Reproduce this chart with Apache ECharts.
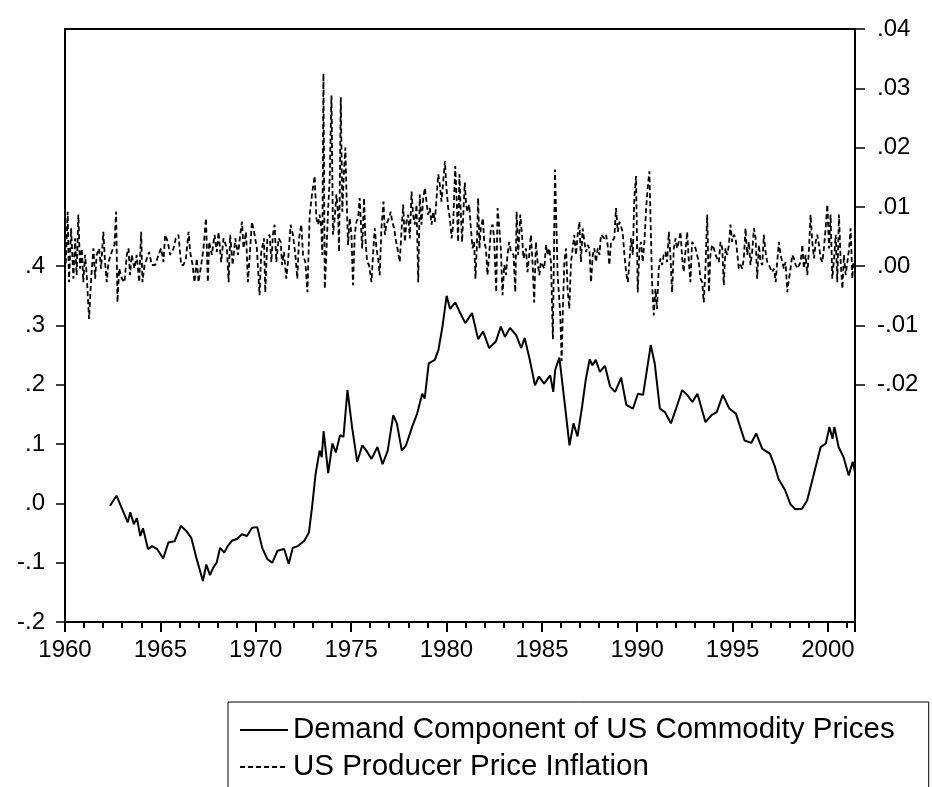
<!DOCTYPE html>
<html>
<head>
<meta charset="utf-8">
<script src="https://cdn.jsdelivr.net/npm/echarts@6.0.0/dist/echarts.min.js"></script>
<style>
  html, body { margin: 0; padding: 0; background: #fff; }
  #main { width: 932px; height: 787px; }
</style>
</head>
<body>
<div id="main"></div>
<script>
// demand component of US commodity prices (left axis)
const demandDates = [
  1962.36, 1962.70, 1963.29, 1963.42, 1963.61, 1963.77, 1963.95, 1964.09, 1964.35, 1964.57,
  1964.83, 1965.15, 1965.42, 1965.74, 1966.08, 1966.35, 1966.62, 1966.88, 1967.23, 1967.41,
  1967.60, 1967.76, 1967.95, 1968.13, 1968.35, 1968.53, 1968.75, 1969.01, 1969.28, 1969.54,
  1969.81, 1970.08, 1970.34, 1970.61, 1970.87, 1971.14, 1971.49, 1971.73, 1971.94, 1972.21,
  1972.55, 1972.79, 1972.95, 1973.14, 1973.35, 1973.46, 1973.56, 1973.80, 1974.02, 1974.20,
  1974.42, 1974.60, 1974.81, 1975.05, 1975.32, 1975.59, 1975.80, 1976.07, 1976.38, 1976.65,
  1976.92, 1977.21, 1977.40, 1977.66, 1977.88, 1978.20, 1978.46, 1978.73, 1978.86, 1979.07,
  1979.39, 1979.58, 1979.79, 1980.01, 1980.19, 1980.46, 1980.72, 1980.99, 1981.34, 1981.66,
  1981.92, 1982.24, 1982.59, 1982.85, 1983.07, 1983.33, 1983.65, 1983.92, 1984.10, 1984.37,
  1984.64, 1984.85, 1985.12, 1985.44, 1985.60, 1985.70, 1985.92, 1986.18, 1986.45, 1986.66,
  1986.87, 1987.11, 1987.30, 1987.51, 1987.65, 1987.83, 1988.04, 1988.31, 1988.58, 1988.84,
  1989.16, 1989.43, 1989.78, 1990.04, 1990.31, 1990.71, 1990.92, 1991.19, 1991.45, 1991.77,
  1992.04, 1992.36, 1992.62, 1992.89, 1993.16, 1993.58, 1993.90, 1994.17, 1994.49, 1994.83,
  1995.18, 1995.63, 1995.98, 1996.24, 1996.56, 1996.96, 1997.23, 1997.41, 1997.76, 1998.03,
  1998.29, 1998.64, 1998.91, 1999.22, 1999.62, 1999.89, 2000.08, 2000.24, 2000.34, 2000.56,
  2000.82, 2001.09, 2001.30, 2001.42
];
const demandValues = [
  -0.004, 0.013, -0.032, -0.015, -0.035, -0.025, -0.055, -0.042, -0.077, -0.072,
  -0.077, -0.093, -0.066, -0.064, -0.038, -0.046, -0.058, -0.091, -0.131, -0.103,
  -0.121, -0.109, -0.100, -0.075, -0.083, -0.072, -0.063, -0.060, -0.052, -0.055,
  -0.041, -0.040, -0.075, -0.094, -0.100, -0.080, -0.077, -0.102, -0.075, -0.072,
  -0.063, -0.049, -0.007, 0.050, 0.089, 0.078, 0.122, 0.051, 0.101, 0.086,
  0.115, 0.112, 0.191, 0.129, 0.070, 0.098, 0.089, 0.075, 0.095, 0.066,
  0.089, 0.149, 0.135, 0.089, 0.098, 0.129, 0.151, 0.185, 0.177, 0.236,
  0.242, 0.259, 0.298, 0.350, 0.328, 0.339, 0.321, 0.304, 0.321, 0.277,
  0.290, 0.262, 0.273, 0.298, 0.281, 0.296, 0.284, 0.262, 0.279, 0.242,
  0.199, 0.214, 0.202, 0.216, 0.188, 0.225, 0.246, 0.174, 0.098, 0.135,
  0.113, 0.163, 0.208, 0.243, 0.233, 0.242, 0.222, 0.232, 0.197, 0.188,
  0.212, 0.166, 0.160, 0.185, 0.183, 0.267, 0.236, 0.160, 0.154, 0.135,
  0.160, 0.191, 0.183, 0.171, 0.185, 0.137, 0.149, 0.154, 0.183, 0.160,
  0.151, 0.106, 0.102, 0.118, 0.092, 0.084, 0.061, 0.041, 0.022, -0.001,
  -0.010, -0.009, 0.005, 0.044, 0.095, 0.101, 0.129, 0.109, 0.129, 0.095,
  0.078, 0.047, 0.070, 0.053
];

// US producer price inflation (right axis)
const ppiDates = [
  1960.04, 1960.14, 1960.21, 1960.32, 1960.44, 1960.53, 1960.61, 1960.70, 1960.79, 1960.88,
  1960.96, 1961.05, 1961.14, 1961.26, 1961.37, 1961.49, 1961.58, 1961.66, 1961.79, 1961.89,
  1962.01, 1962.10, 1962.19, 1962.28, 1962.45, 1962.59, 1962.68, 1962.75, 1962.84, 1962.98,
  1963.12, 1963.24, 1963.33, 1963.41, 1963.50, 1963.64, 1963.76, 1963.89, 1963.99, 1964.06,
  1964.17, 1964.29, 1964.41, 1964.55, 1964.73, 1964.90, 1965.04, 1965.16, 1965.25, 1965.39,
  1965.51, 1965.69, 1965.81, 1965.95, 1966.09, 1966.21, 1966.34, 1966.48, 1966.56, 1966.69,
  1966.79, 1966.91, 1967.00, 1967.14, 1967.26, 1967.39, 1967.49, 1967.56, 1967.70, 1967.84,
  1967.96, 1968.05, 1968.19, 1968.31, 1968.49, 1968.58, 1968.66, 1968.79, 1968.93, 1969.07,
  1969.19, 1969.28, 1969.36, 1969.49, 1969.59, 1969.71, 1969.80, 1969.94, 1970.06, 1970.20,
  1970.29, 1970.43, 1970.50, 1970.61, 1970.73, 1970.82, 1970.90, 1970.99, 1971.08, 1971.20,
  1971.31, 1971.38, 1971.48, 1971.60, 1971.69, 1971.83, 1971.95, 1972.08, 1972.18, 1972.27,
  1972.39, 1972.48, 1972.60, 1972.71, 1972.83, 1972.95, 1973.09, 1973.18, 1973.27, 1973.35,
  1973.44, 1973.49, 1973.55, 1973.62, 1973.70, 1973.79, 1973.88, 1973.97, 1974.05, 1974.14,
  1974.23, 1974.32, 1974.37, 1974.46, 1974.54, 1974.61, 1974.70, 1974.77, 1974.84, 1974.93,
  1975.02, 1975.10, 1975.19, 1975.28, 1975.37, 1975.45, 1975.58, 1975.68, 1975.75, 1975.84,
  1975.94, 1976.07, 1976.15, 1976.24, 1976.33, 1976.42, 1976.50, 1976.59, 1976.70, 1976.77,
  1976.85, 1976.98, 1977.08, 1977.15, 1977.26, 1977.33, 1977.43, 1977.55, 1977.64, 1977.73,
  1977.82, 1977.90, 1977.99, 1978.08, 1978.17, 1978.25, 1978.34, 1978.43, 1978.52, 1978.60,
  1978.69, 1978.78, 1978.87, 1978.95, 1979.04, 1979.13, 1979.22, 1979.30, 1979.39, 1979.48,
  1979.57, 1979.65, 1979.74, 1979.83, 1979.92, 1980.00, 1980.09, 1980.18, 1980.27, 1980.35,
  1980.46, 1980.54, 1980.61, 1980.68, 1980.75, 1980.82, 1980.89, 1980.96, 1981.03, 1981.10,
  1981.19, 1981.28, 1981.37, 1981.45, 1981.52, 1981.59, 1981.66, 1981.73, 1981.80, 1981.91,
  1981.98, 1982.07, 1982.15, 1982.24, 1982.33, 1982.42, 1982.50, 1982.61, 1982.68, 1982.77,
  1982.85, 1982.94, 1983.03, 1983.12, 1983.20, 1983.29, 1983.38, 1983.52, 1983.61, 1983.68,
  1983.76, 1983.87, 1983.96, 1984.04, 1984.17, 1984.25, 1984.34, 1984.43, 1984.52, 1984.60,
  1984.69, 1984.78, 1984.87, 1984.95, 1985.04, 1985.13, 1985.22, 1985.30, 1985.39, 1985.48,
  1985.58, 1985.69, 1985.83, 1985.97, 1986.04, 1986.11, 1986.18, 1986.27, 1986.35, 1986.44,
  1986.53, 1986.62, 1986.70, 1986.79, 1986.88, 1986.97, 1987.05, 1987.14, 1987.23, 1987.32,
  1987.40, 1987.49, 1987.58, 1987.67, 1987.75, 1987.84, 1987.93, 1988.02, 1988.10, 1988.19,
  1988.28, 1988.37, 1988.45, 1988.54, 1988.63, 1988.72, 1988.80, 1988.89, 1988.98, 1989.07,
  1989.15, 1989.24, 1989.33, 1989.42, 1989.51, 1989.59, 1989.68, 1989.77, 1989.85, 1989.94,
  1990.03, 1990.12, 1990.20, 1990.29, 1990.38, 1990.47, 1990.55, 1990.64, 1990.78, 1990.87,
  1990.96, 1991.04, 1991.13, 1991.22, 1991.31, 1991.39, 1991.48, 1991.57, 1991.66, 1991.74,
  1991.83, 1991.92, 1992.01, 1992.09, 1992.18, 1992.27, 1992.36, 1992.44, 1992.53, 1992.62,
  1992.71, 1992.79, 1992.88, 1992.97, 1993.06, 1993.14, 1993.23, 1993.32, 1993.41, 1993.49,
  1993.58, 1993.67, 1993.76, 1993.84, 1993.93, 1994.02, 1994.11, 1994.19, 1994.28, 1994.37,
  1994.46, 1994.54, 1994.63, 1994.72, 1994.81, 1994.89, 1994.98, 1995.07, 1995.16, 1995.24,
  1995.33, 1995.42, 1995.51, 1995.59, 1995.68, 1995.77, 1995.86, 1995.94, 1996.03, 1996.12,
  1996.21, 1996.29, 1996.38, 1996.47, 1996.56, 1996.64, 1996.73, 1996.82, 1996.91, 1996.99,
  1997.08, 1997.17, 1997.26, 1997.34, 1997.43, 1997.52, 1997.61, 1997.69, 1997.78, 1997.87,
  1997.96, 1998.04, 1998.13, 1998.22, 1998.31, 1998.39, 1998.48, 1998.57, 1998.66, 1998.74,
  1998.83, 1998.92, 1999.01, 1999.09, 1999.18, 1999.27, 1999.36, 1999.44, 1999.53, 1999.62,
  1999.71, 1999.79, 1999.88, 1999.97, 2000.06, 2000.14, 2000.23, 2000.32, 2000.41, 2000.49,
  2000.58, 2000.67, 2000.76, 2000.84, 2000.93, 2001.02, 2001.11, 2001.19, 2001.28, 2001.33
];
const ppiValues = [
  0.0005, 0.0092, -0.0027, 0.0064, -0.0021, 0.0047, -0.0015, 0.0087, -0.0004, 0.0030,
  -0.0027, 0.0019, -0.0015, -0.0089, -0.0021, 0.0030, -0.0021, 0.0019, 0.0030, -0.0004,
  0.0058, 0.0007, -0.0027, 0.0007, 0.0024, 0.0036, 0.0092, -0.0061, -0.0004, -0.0021,
  -0.0027, 0.0019, 0.0030, -0.0015, 0.0019, -0.0004, 0.0019, -0.0027, 0.0058, -0.0027,
  0.0002, 0.0013, 0.0024, 0.0002, 0.0002, 0.0019, 0.0030, 0.0007, 0.0053, 0.0041,
  0.0019, 0.0030, 0.0047, 0.0053, 0.0002, 0.0002, 0.0013, 0.0058, 0.0024, 0.0002,
  -0.0027, 0.0013, -0.0027, 0.0002, 0.0030, 0.0081, -0.0027, 0.0041, 0.0019, 0.0053,
  0.0024, 0.0058, 0.0007, 0.0047, 0.0030, -0.0027, 0.0053, 0.0002, 0.0047, 0.0019,
  0.0053, 0.0075, 0.0030, 0.0058, -0.0027, 0.0030, 0.0075, 0.0053, 0.0030, -0.0049,
  0.0024, 0.0047, -0.0044, 0.0047, 0.0053, 0.0007, 0.0053, 0.0070, 0.0007, 0.0047,
  0.0041, 0.0002, 0.0024, -0.0021, 0.0007, 0.0070, 0.0053, 0.0019, -0.0021, 0.0047,
  0.0070, 0.0019, 0.0007, -0.0044, 0.0087, 0.0121, 0.0152, 0.0081, 0.0070, 0.0087,
  0.0064, 0.0019, 0.0325, -0.0038, 0.0019, 0.0092, 0.0149, 0.0288, 0.0053, 0.0081,
  0.0121, 0.0087, 0.0024, 0.0285, 0.0092, 0.0149, 0.0200, 0.0109, 0.0036, 0.0081,
  0.0053, -0.0032, 0.0053, 0.0075, 0.0081, 0.0115, 0.0030, 0.0115, 0.0047, 0.0007,
  0.0002, -0.0027, 0.0019, 0.0064, 0.0030, 0.0013, -0.0015, 0.0064, 0.0109, 0.0053,
  0.0070, 0.0081, 0.0092, 0.0075, 0.0064, 0.0047, 0.0030, 0.0007, 0.0058, 0.0104,
  0.0041, 0.0075, 0.0087, 0.0047, 0.0126, 0.0087, 0.0070, 0.0104, -0.0027, 0.0121,
  0.0070, 0.0115, 0.0132, 0.0109, 0.0087, 0.0098, 0.0070, 0.0092, 0.0075, 0.0115,
  0.0155, 0.0138, 0.0109, 0.0143, 0.0177, 0.0132, 0.0098, 0.0081, 0.0047, 0.0070,
  0.0169, 0.0109, 0.0041, 0.0155, 0.0092, 0.0041, 0.0092, 0.0141, 0.0104, 0.0092,
  0.0104, 0.0064, 0.0030, 0.0041, -0.0021, 0.0030, 0.0115, 0.0030, 0.0064, 0.0081,
  0.0041, 0.0030, -0.0015, 0.0019, 0.0064, 0.0070, 0.0047, -0.0044, 0.0098, 0.0064,
  0.0030, -0.0049, 0.0002, -0.0015, 0.0019, 0.0041, 0.0024, 0.0019, -0.0044, 0.0092,
  0.0019, 0.0087, 0.0053, 0.0013, 0.0030, -0.0010, 0.0019, 0.0053, 0.0002, -0.0061,
  0.0041, 0.0007, -0.0015, 0.0007, 0.0007, -0.0004, 0.0036, 0.0019, 0.0030, 0.0007,
  -0.0123, 0.0163, -0.0015, -0.0083, -0.0160, -0.0066, 0.0007, 0.0030, -0.0038, -0.0072,
  0.0007, 0.0030, 0.0053, 0.0019, 0.0053, 0.0075, 0.0007, 0.0064, 0.0041, 0.0024,
  0.0036, 0.0030, -0.0027, 0.0019, 0.0030, 0.0007, 0.0030, 0.0019, 0.0053, 0.0053,
  0.0047, 0.0053, 0.0036, 0.0002, 0.0041, 0.0041, 0.0047, 0.0098, 0.0058, 0.0075,
  0.0075, 0.0058, 0.0019, -0.0010, -0.0027, 0.0007, 0.0047, 0.0019, 0.0115, 0.0152,
  -0.0044, 0.0030, 0.0041, 0.0007, 0.0041, 0.0098, 0.0132, 0.0160, -0.0027, -0.0083,
  -0.0038, -0.0072, -0.0004, 0.0013, 0.0002, 0.0019, 0.0024, 0.0007, 0.0058, 0.0019,
  -0.0044, 0.0030, 0.0047, 0.0030, 0.0041, 0.0058, 0.0013, -0.0010, 0.0024, 0.0058,
  0.0007, -0.0027, 0.0041, 0.0036, 0.0030, 0.0019, 0.0007, -0.0021, -0.0027, -0.0061,
  -0.0004, 0.0087, -0.0044, 0.0019, 0.0036, 0.0030, 0.0019, 0.0013, 0.0007, 0.0041,
  0.0030, -0.0032, 0.0030, 0.0019, 0.0036, 0.0070, 0.0041, 0.0053, 0.0047, 0.0024,
  -0.0004, 0.0002, -0.0004, 0.0013, 0.0064, 0.0019, 0.0041, 0.0002, 0.0024, 0.0064,
  0.0047, -0.0021, 0.0036, 0.0007, 0.0002, 0.0053, 0.0024, 0.0007, 0.0002, -0.0004,
  -0.0010, -0.0004, -0.0027, 0.0007, 0.0041, 0.0019, 0.0007, -0.0004, 0.0007, -0.0044,
  -0.0021, -0.0004, 0.0019, 0.0013, 0.0002, -0.0004, -0.0004, 0.0007, 0.0036, -0.0004,
  0.0019, -0.0015, 0.0030, 0.0087, 0.0041, 0.0013, 0.0041, 0.0053, 0.0036, 0.0013,
  0.0007, 0.0030, 0.0064, 0.0104, 0.0030, 0.0087, -0.0021, 0.0013, 0.0053, -0.0027,
  0.0087, 0.0007, -0.0038, 0.0019, -0.0015, 0.0007, 0.0030, 0.0064, -0.0021, 0.0007
];

const leftTicks = [-0.2, -0.1, 0, 0.1, 0.2, 0.3, 0.4];
const rightTicks = [-0.02, -0.01, 0, 0.01, 0.02, 0.03, 0.04];

const fontFamily = '"Liberation Sans", Arial, sans-serif';

// EViews style labels: .4, -.2, .00
function decimalLabel(digits) {
  return v => {
    const s = Math.abs(v).toFixed(digits).replace(/^0/, '');
    return (v < -1e-9 ? '-' : '') + s;
  };
}

const chart = echarts.init(document.getElementById('main'));

const option = {
  animation: false,
  backgroundColor: '#fff',
  grid: {
    left: 65,
    right: 77,
    top: 29,
    bottom: 165,
    show: true,
    borderColor: '#000',
    borderWidth: 2
  },
  legend: {
    orient: 'vertical',
    left: 228,
    top: 702,
    height: 160,
    itemWidth: 48,
    itemHeight: 14,
    itemGap: 7,
    padding: [13, 34, 40, 11],
    borderColor: '#000',
    borderWidth: 1,
    itemStyle: { opacity: 0 },
    textStyle: { fontFamily, fontSize: 29.5, color: '#000' },
    data: ['Demand Component of US Commodity Prices', 'US Producer Price Inflation']
  },
  xAxis: {
    type: 'value',
    min: 1960,
    max: 2001.42,
    interval: 5,
    splitLine: { show: false },
    axisLine: { show: true, onZero: false, lineStyle: { color: '#000', width: 2 } },
    axisTick: { length: 10, lineStyle: { color: '#000', width: 2 } },
    minorTick: { show: true, splitNumber: 5, length: 6, lineStyle: { color: '#000', width: 2 } },
    axisLabel: {
      margin: 16,
      fontFamily,
      fontSize: 24,
      color: '#000',
      showMaxLabel: false,
      formatter: v => (Math.abs(v % 5) < 1e-6 ? String(Math.round(v)) : '')
    }
  },
  yAxis: [
    {
      type: 'value',
      min: -0.2,
      max: 0.8,
      position: 'left',
      splitLine: { show: false },
      axisLine: { show: true, onZero: false, lineStyle: { color: '#000', width: 2 } },
      axisTick: { customValues: leftTicks, length: 9, lineStyle: { color: '#000', width: 1.5 } },
      axisLabel: {
        customValues: leftTicks,
        margin: 20,
        fontFamily,
        fontSize: 24,
        color: '#000',
        formatter: decimalLabel(1)
      }
    },
    {
      type: 'value',
      min: -0.06,
      max: 0.04,
      position: 'right',
      splitLine: { show: false },
      axisLine: { show: true, onZero: false, lineStyle: { color: '#000', width: 2 } },
      axisTick: { customValues: rightTicks, length: 10, lineStyle: { color: '#000', width: 1.5 } },
      axisLabel: {
        customValues: rightTicks,
        margin: 22,
        fontFamily,
        fontSize: 24,
        color: '#000',
        formatter: decimalLabel(2)
      }
    }
  ],
  series: [
    {
      name: 'Demand Component of US Commodity Prices',
      type: 'line',
      yAxisIndex: 0,
      symbol: 'none',
      lineStyle: { color: '#000', width: 2 },
      itemStyle: { color: '#000' },
      data: demandDates.map((d, i) => [d, demandValues[i]])
    },
    {
      name: 'US Producer Price Inflation',
      type: 'line',
      yAxisIndex: 1,
      symbol: 'none',
      lineStyle: { color: '#000', width: 1.8, type: [5, 3] },
      itemStyle: { color: '#000' },
      data: ppiDates.map((d, i) => [d, ppiValues[i]])
    }
  ]
};

chart.setOption(option);
</script>
</body>
</html>
